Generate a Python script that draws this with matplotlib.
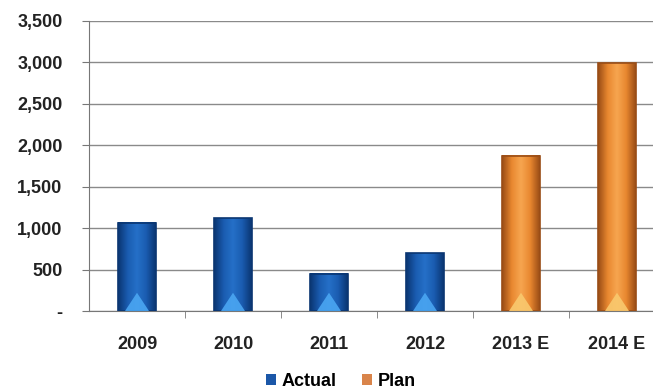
import numpy as np
import matplotlib
matplotlib.use("Agg")
import matplotlib.pyplot as plt
from matplotlib.colors import LinearSegmentedColormap
from matplotlib.patches import Polygon, Patch

categories = ["2009", "2010", "2011", "2012", "2013 E", "2014 E"]
values = [1065, 1120, 450, 700, 1875, 2990]
series = ["Actual", "Actual", "Actual", "Actual", "Plan", "Plan"]
y_ticks = [0, 500, 1000, 1500, 2000, 2500, 3000, 3500]
y_labels = ["-", "500", "1,000", "1,500", "2,000", "2,500", "3,000", "3,500"]

styles = {
    "Actual": dict(grad=["#0a3672", "#1a5cb0", "#2570c8", "#1a5cb0", "#0a3672"],
                   tri="#4aa6f2", legend="#1b57a8"),
    "Plan": dict(grad=["#9a4d16", "#e8872f", "#f7a650", "#e8872f", "#9a4d16"],
                 tri="#f9c96e", legend="#d9844a"),
}

plt.rcParams["font.family"] = ["Liberation Sans", "DejaVu Sans"]

fig = plt.figure(figsize=(6.53, 3.92), dpi=100)
ax = fig.add_axes([89 / 653, 81 / 392, 564 / 653, 290 / 392])

bw = 0.39
for i, (v, s) in enumerate(zip(values, series)):
    st = styles[s]
    cmap = LinearSegmentedColormap.from_list(s, st["grad"])
    grad = np.linspace(0, 1, 64).reshape(1, -1)
    ax.imshow(grad, cmap=cmap, extent=[i - bw / 2, i + bw / 2, 0, v],
              aspect="auto", zorder=3, interpolation="bicubic")
    ax.add_patch(plt.Rectangle((i - bw / 2, 0), bw, v, fill=False,
                               edgecolor=st["grad"][0], lw=1.2, zorder=4))
    tri = Polygon([[i - bw * 0.32, 0], [i + bw * 0.32, 0], [i, 220]],
                  closed=True, facecolor=st["tri"], edgecolor="none",
                  alpha=0.9, zorder=4)
    ax.add_patch(tri)

ax.set_xlim(-0.5, 5.5 - 12 / 96)
ax.set_ylim(0, 3500)
ax.set_yticks(y_ticks)
ax.set_yticklabels(y_labels)
ax.set_xticks(range(len(categories)))
ax.set_xticklabels(categories)
ax.set_xticks(np.arange(0.5, len(categories) - 1, 1.0), minor=True)
ax.tick_params(axis="x", which="major", length=0, pad=18)
ax.tick_params(axis="x", which="minor", length=5, direction="out", color="#777777")
ax.tick_params(axis="y", length=5, direction="out", color="#777777", pad=14)
for lab in ax.get_xticklabels() + ax.get_yticklabels():
    lab.set_fontsize(13)
    lab.set_fontweight("bold")
    lab.set_color("#222222")

ax.grid(axis="y", color="#8a8a8a", lw=1.0, zorder=0)
ax.set_axisbelow(True)
for sp in ["top", "right"]:
    ax.spines[sp].set_visible(False)
for sp in ["left", "bottom"]:
    ax.spines[sp].set_color("#777777")
ax.set_facecolor("white")

handles = [Patch(facecolor=styles[k]["legend"], edgecolor="none", label=k)
           for k in ["Actual", "Plan"]]
fig.legend(handles=handles, loc="center", bbox_to_anchor=(341 / 653, 11 / 392),
           ncol=2, frameon=False, prop=dict(size=13, weight="bold"),
           handlelength=0.55, handleheight=0.55, handletextpad=0.3, columnspacing=1.4)

fig.savefig("out.png", dpi=100)
